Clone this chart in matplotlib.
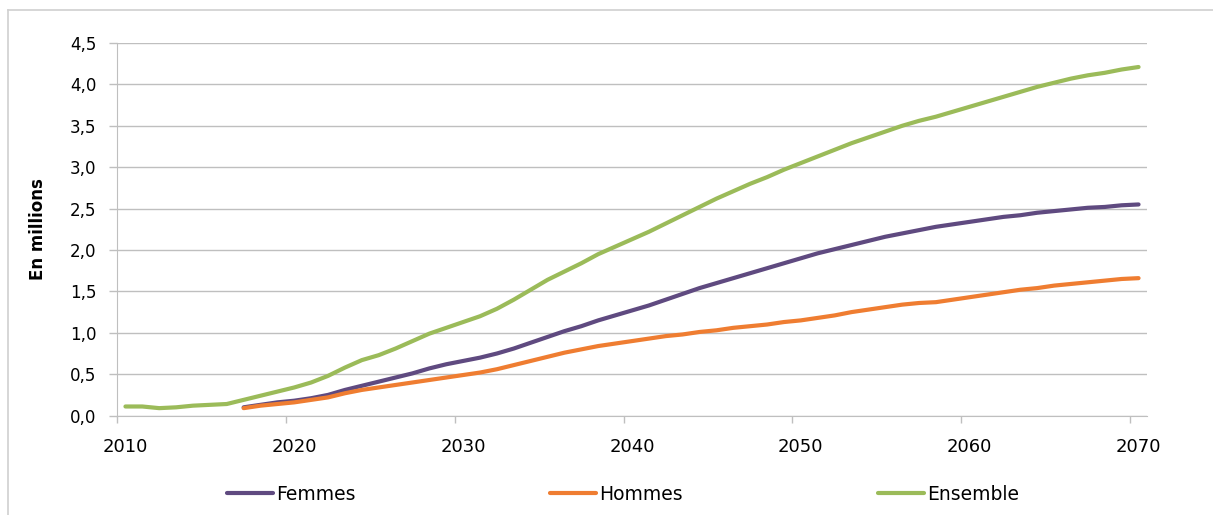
import numpy as np
import matplotlib
matplotlib.use('Agg')
import matplotlib.pyplot as plt
from matplotlib.lines import Line2D

plt.rcParams['font.family'] = ['DejaVu Sans']

# data (millions)
years_all = np.arange(2010, 2071)
ensemble = [0.11, 0.11, 0.09, 0.10, 0.12, 0.13, 0.14, 0.19, 0.24, 0.29,
            0.34, 0.40, 0.48, 0.58, 0.67, 0.73, 0.81, 0.90, 0.99, 1.06,
            1.13, 1.20, 1.29, 1.40, 1.52, 1.64, 1.74, 1.84, 1.95, 2.04,
            2.13, 2.22, 2.32, 2.42, 2.52, 2.62, 2.71, 2.80, 2.88, 2.97,
            3.05, 3.13, 3.21, 3.29, 3.36, 3.43, 3.50, 3.56, 3.61, 3.67,
            3.73, 3.79, 3.85, 3.91, 3.97, 4.02, 4.07, 4.11, 4.14, 4.18,
            4.21]

years_sex = np.arange(2017, 2071)
femmes = [0.10, 0.13, 0.16, 0.18, 0.21, 0.25, 0.31, 0.36, 0.41, 0.46,
          0.51, 0.57, 0.62, 0.66, 0.70, 0.75, 0.81, 0.88, 0.95, 1.02,
          1.08, 1.15, 1.21, 1.27, 1.33, 1.40, 1.47, 1.54, 1.60, 1.66,
          1.72, 1.78, 1.84, 1.90, 1.96, 2.01, 2.06, 2.11, 2.16, 2.20,
          2.24, 2.28, 2.31, 2.34, 2.37, 2.40, 2.42, 2.45, 2.47, 2.49,
          2.51, 2.52, 2.54, 2.55]
hommes = [0.09, 0.12, 0.14, 0.16, 0.19, 0.22, 0.27, 0.31, 0.34, 0.37,
          0.40, 0.43, 0.46, 0.49, 0.52, 0.56, 0.61, 0.66, 0.71, 0.76,
          0.80, 0.84, 0.87, 0.90, 0.93, 0.96, 0.98, 1.01, 1.03, 1.06,
          1.08, 1.10, 1.13, 1.15, 1.18, 1.21, 1.25, 1.28, 1.31, 1.34,
          1.36, 1.37, 1.40, 1.43, 1.46, 1.49, 1.52, 1.54, 1.57, 1.59,
          1.61, 1.63, 1.65, 1.66]

yticks = np.arange(0, 4.51, 0.5)
xlabels = [2010, 2020, 2030, 2040, 2050, 2060, 2070]

c_fem = '#5f4a80'
c_hom = '#ef7d31'
c_ens = '#9bbb59'
grey = '#bfbfbf'

fig = plt.figure(figsize=(12.13, 5.15), dpi=100)
ax = fig.add_axes([117/1213, 1-415.6/515, 1030/1213, (415.6-43)/515])

ax.plot(years_sex, femmes, color=c_fem, lw=3, solid_capstyle='round', label='Femmes', zorder=3)
ax.plot(years_sex, hommes, color=c_hom, lw=3, solid_capstyle='round', label='Hommes', zorder=4)
ax.plot(years_all, ensemble, color=c_ens, lw=3, solid_capstyle='round', label='Ensemble', zorder=5)

ax.set_xlim(2009.5, 2070.5)
ax.set_ylim(0, 4.5)
ax.set_yticks(yticks)
ax.set_yticklabels([('%.1f' % v).replace('.', ',') for v in yticks], fontsize=12)
ax.yaxis.grid(True, color=grey, lw=1)
ax.set_axisbelow(True)

# ticks between categories, labels centred on the year
ax.set_xticks([x - 0.5 for x in xlabels])
ax.set_xticklabels([])
ax.set_xticks(xlabels, minor=True)
ax.set_xticklabels([str(x) for x in xlabels], minor=True, fontsize=13)
ax.tick_params(axis='x', which='major', length=5, color=grey, width=1)
ax.tick_params(axis='x', which='minor', length=0, pad=16)
ax.tick_params(axis='y', length=6, color=grey, width=1, pad=9)

for s in ['top', 'right']:
    ax.spines[s].set_visible(False)
ax.spines['left'].set_color(grey)
ax.spines['bottom'].set_color(grey)

ax.set_ylabel('En millions', fontsize=12, fontweight='bold')
ax.yaxis.set_label_coords(-0.068, 0.5)

fig.legend(loc='center', bbox_to_anchor=(623/1213, 1-494/515), ncol=3, frameon=False,
           fontsize=13.5, handlelength=2.45, handletextpad=0.16, columnspacing=10.4)

# chart frame (left and top edges)
fig.add_artist(Line2D([8/1213, 8/1213], [0, 1-10/515], color='#d0d0d0', lw=1.2))
fig.add_artist(Line2D([8/1213, 1], [1-10/515, 1-10/515], color='#d0d0d0', lw=1.2))

fig.savefig('out.png', dpi=100)
